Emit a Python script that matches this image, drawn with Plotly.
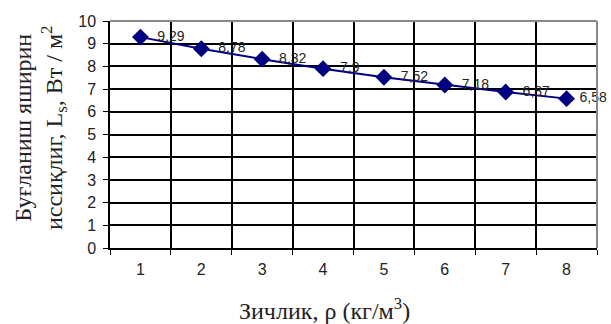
import plotly.graph_objects as go

categories = [1, 2, 3, 4, 5, 6, 7, 8]
values = [9.29, 8.78, 8.32, 7.9, 7.52, 7.18, 6.87, 6.58]
labels = ["9,29", "8,78", "8,32", "7,9", "7,52", "7,18", "6,87", "6,58"]
boundaries = [0.5, 1.5, 2.5, 3.5, 4.5, 5.5, 6.5, 7.5, 8.5]
x_title = "Зичлик, ρ (кг/м<sup>3</sup>)"
y_title = "Буғланиш яширин<br>иссиқлиг, L<sub>s</sub>, Вт / м<sup>2</sup>"

fig = go.Figure()
fig.add_trace(go.Scatter(
    x=categories, y=values, mode="lines+markers+text",
    text=["\u00a0\u00a0" + t for t in labels[:-1]] + ["\u00a0" + labels[-1]],
    textposition="middle right",
    textfont=dict(family="Liberation Sans, Arial", size=14, color="#222"),
    line=dict(color="#000080", width=2),
    marker=dict(symbol="diamond", size=13, color="#000080"),
    cliponaxis=False,
))

fig.update_layout(
    template="none",
    width=611, height=324,
    margin=dict(l=110, r=14, t=21, b=76),
    paper_bgcolor="white", plot_bgcolor="white",
    showlegend=False,
    xaxis=dict(
        range=[0.5, 8.5], tickmode="array", tickvals=categories,
        ticktext=[str(c) for c in categories], ticks="", showgrid=False,
        showline=True, linecolor="black", linewidth=1.5,
        tickfont=dict(family="Liberation Sans, Arial", size=16, color="#222"),
        ticklabelstandoff=6,
        zeroline=False, automargin=False,
        minor=dict(tickvals=boundaries, showgrid=True, gridcolor="rgb(0,0,0)", gridwidth=1.5,
                   ticks="outside", ticklen=5, tickcolor="black", tickwidth=1),
    ),
    yaxis=dict(
        range=[0, 10], tickmode="linear", tick0=0, dtick=1,
        ticks="outside", ticklen=5, tickcolor="black", tickwidth=1,
        showgrid=True, gridcolor="rgb(0,0,0)", gridwidth=1.5,
        showline=True, linecolor="black", linewidth=1.5,
        tickfont=dict(family="Liberation Sans, Arial", size=16, color="#222"),
        ticklabelstandoff=4,
        zeroline=False, automargin=False,
    ),
    annotations=[
        dict(text=x_title, xref="paper", yref="paper", x=0.44, y=-0.27,
             xanchor="center", yanchor="middle", showarrow=False,
             font=dict(family="Liberation Serif, Times New Roman", size=24, color="#222")),
        dict(text=y_title, xref="paper", yref="paper", x=-0.143, y=0.53,
             xanchor="center", yanchor="middle", showarrow=False, textangle=-90,
             font=dict(family="Liberation Serif, Times New Roman", size=24, color="#222")),
    ],
)
fig.add_shape(type="line", xref="paper", yref="paper", x0=0, x1=1, y0=1, y1=1,
              line=dict(color="#888888", width=2))
fig.add_shape(type="line", xref="paper", yref="paper", x0=1, x1=1, y0=0, y1=1,
              line=dict(color="#888888", width=2))

fig.write_html("out.html", config={"displayModeBar": False},
               post_script="document.body.style.margin='0px';")
